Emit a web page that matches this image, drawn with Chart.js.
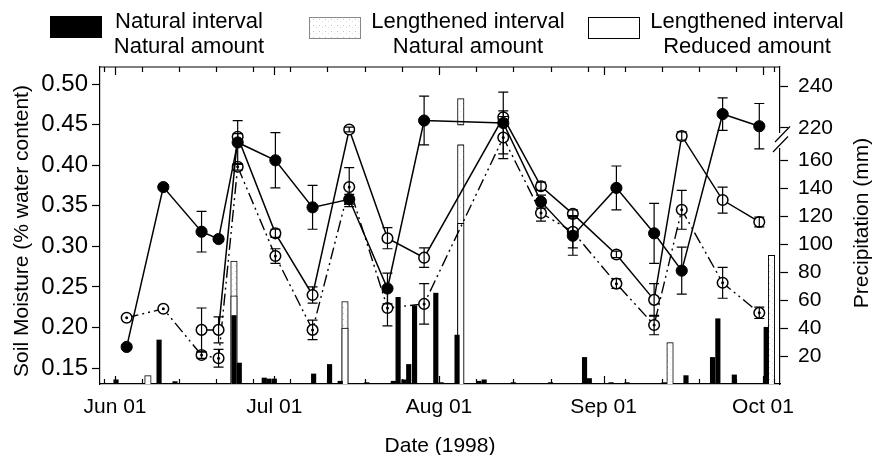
<!DOCTYPE html>
<html><head><meta charset="utf-8">
<script src="https://cdn.jsdelivr.net/npm/chart.js@4.4.1/dist/chart.umd.min.js"></script>
<style>html,body{margin:0;padding:0;background:#fff}</style>
</head><body>
<canvas id="c" width="872" height="455"></canvas>
<script>
const FONT = '"Liberation Sans", Arial, Helvetica, sans-serif';
const FS = 21;

// x values: days after 1 June 1998
const monthTickDays = [0, 30, 61, 92, 122];
const monthTickLabels = ['Jun 01', 'Jul 01', 'Aug 01', 'Sep 01', 'Oct 01'];
const weekTickDays = [-2, 5, 12, 19, 26, 33, 40, 47, 54, 61, 68, 75, 82, 89, 96, 103, 110, 117, 124];

// soil moisture sampling days
const sampleDays = [2.2, 9.1, 16.3, 19.5, 23.1, 30.2, 37.2, 44.1, 51.3, 58.2, 73.1, 80.2, 86.2, 94.4, 101.5, 106.7, 114.4, 121.3];
const moistNatural = [0.176, 0.373, 0.318, 0.309, 0.428, 0.406, 0.348, 0.358, 0.248, 0.455, 0.452, 0.355, 0.313, 0.372, 0.316, 0.270, 0.463, 0.448];
const errNatural = [0.003, 0.003, 0.025, 0.003, 0.027, 0.034, 0.027, 0.006, 0.019, 0.030, 0.038, 0.008, 0.024, 0.027, 0.037, 0.029, 0.020, 0.028];
const moistLengthened = [null, null, 0.197, 0.197, 0.435, 0.316, 0.240, 0.444, 0.310, 0.286, 0.459, 0.374, 0.340, 0.290, 0.234, 0.436, 0.357, 0.330];
const errLengthened = [0, 0, 0.027, 0.016, 0.004, 0.005, 0.010, 0.003, 0.013, 0.012, 0.008, 0.005, 0.005, 0.004, 0.020, 0.005, 0.016, 0.006];
const moistReduced = [0.212, 0.223, 0.166, 0.162, 0.398, 0.288, 0.197, 0.373, 0.224, 0.229, 0.434, 0.341, 0.318, 0.254, 0.203, 0.345, 0.255, 0.218];
const errReduced = [0, 0, 0.004, 0.011, 0.004, 0.009, 0.012, 0.024, 0.022, 0.025, 0.026, 0.010, 0.020, 0.006, 0.012, 0.024, 0.019, 0.007];

// precipitation (mm)
const rainNatDays = [0.2, 8.3, 11.3, 22.4, 23.4, 28.1, 29.0, 30.0, 37.4, 40.4, 42.4, 47.4, 52.4, 53.3, 54.4, 55.3, 56.4, 60.4, 61.4, 64.4, 68.5, 69.5, 75.0, 82.0, 88.4, 89.3, 93.4, 96.4, 103.4, 107.5, 112.5, 113.5, 116.6, 122.6];
const rainNat = [3, 31.5, 1.7, 49, 15, 4.3, 3.6, 3.6, 7.2, 14, 2, 1, 2, 62, 3, 14, 56, 65, 1, 35, 2, 3, 1, 1, 19, 3.9, 1, 1, 1, 6, 19, 46.7, 6.5, 40.6];
const rainLenNatDays = [6.2, 22.4, 43.3, 65.1, 104.5, 123.6];
const rainLenNat = [6, 88, 59, 234, 29.6, 92];
const rainLenRedDays = [22.4, 43.3, 65.1];
const rainLenRed = [63, 40, 115];

const precipTicks = [20, 40, 60, 80, 100, 120, 140, 160, 220, 240];
const moistTicks = [0.15, 0.20, 0.25, 0.30, 0.35, 0.40, 0.45, 0.50];

// broken precipitation axis: linear below the break, compressed segment above 220 mm
function precipToAxis(p) { return p <= 180 ? p : 183.3 + (p - 220) * 1.495; }

const ctx0 = document.getElementById('c').getContext('2d');
function makeStipple() {
  const c = document.createElement('canvas'); c.width = 6; c.height = 6;
  const g = c.getContext('2d');
  g.fillStyle = '#fff'; g.fillRect(0, 0, 6, 6);
  g.fillStyle = '#c4c4c4'; g.fillRect(1, 1, 1, 1);
  g.fillStyle = '#dddddd'; g.fillRect(4, 3, 1, 1);
  return ctx0.createPattern(c, 'repeat');
}
const stipple = makeStipple();

const pts = (xs, ys) => xs.map((x, i) => ({ x: x, y: ys[i] }));
const bars = (xs, ys) => xs.map((x, i) => ({ x: x, y: precipToAxis(ys[i]) }));

const errorBarPlugin = {
  id: 'errbars',
  afterDatasetsDraw(chart) {
    const c = chart.ctx, xs = chart.scales.x, ys = chart.scales.y;
    c.save();
    c.strokeStyle = '#000'; c.lineWidth = 1.2;
    chart.data.datasets.forEach(ds => {
      if (!ds.err) return;
      ds.data.forEach((p, i) => {
        const e = ds.err[i];
        if (p.y == null || !e) return;
        const px = xs.getPixelForValue(p.x);
        const y1 = ys.getPixelForValue(p.y + e), y2 = ys.getPixelForValue(p.y - e);
        c.beginPath();
        c.moveTo(px, y1); c.lineTo(px, y2);
        c.moveTo(px - 5, y1); c.lineTo(px + 5, y1);
        c.moveTo(px - 5, y2); c.lineTo(px + 5, y2);
        c.stroke();
      });
    });
    // centre dots of the dotted-circle series
    c.fillStyle = '#000';
    chart.data.datasets.forEach((ds, di) => {
      if (!ds.centerDot) return;
      chart.getDatasetMeta(di).data.forEach(el => {
        c.beginPath(); c.arc(el.x, el.y, 1.5, 0, Math.PI * 2); c.fill();
      });
    });
    c.restore();
  }
};

const decorPlugin = {
  id: 'decor',
  afterDraw(chart) {
    const c = chart.ctx, a = chart.chartArea, xs = chart.scales.x, y2 = chart.scales.y2;
    c.save();
    c.strokeStyle = '#000'; c.lineWidth = 1.2;
    // top frame
    c.beginPath(); c.moveTo(a.left, a.top); c.lineTo(a.right, a.top); c.stroke();
    // x ticks (inward, top and bottom)
    c.beginPath();
    weekTickDays.forEach(d => {
      const px = Math.round(xs.getPixelForValue(d)) + 0.5;
      c.moveTo(px, a.top); c.lineTo(px, a.top + 5);
      c.moveTo(px, a.bottom); c.lineTo(px, a.bottom - 5);
    });
    monthTickDays.forEach(d => {
      const px = Math.round(xs.getPixelForValue(d)) + 0.5;
      c.moveTo(px, a.top); c.lineTo(px, a.top + 8);
      c.moveTo(px, a.bottom); c.lineTo(px, a.bottom - 8);
    });
    c.stroke();
    // axis break on tall bars and on the right axis
    const yb1 = y2.getPixelForValue(185.5), yb2 = y2.getPixelForValue(171);
    chart.data.datasets.forEach((ds, di) => {
      if (ds.type !== 'bar') return;
      const meta = chart.getDatasetMeta(di);
      meta.data.forEach((el, i) => {
        if (ds.data[i].y > 186) {
          const w = el.width;
          c.fillStyle = '#fff';
          c.fillRect(el.x - w / 2 - 1, yb1, w + 2, yb2 - yb1);
          c.beginPath();
          c.moveTo(el.x - w / 2, yb1); c.lineTo(el.x + w / 2, yb1);
          c.moveTo(el.x - w / 2, yb2); c.lineTo(el.x + w / 2, yb2);
          c.stroke();
        }
      });
    });
    c.fillStyle = '#fff';
    c.fillRect(a.right - 3, 133, 8, 15);
    c.beginPath();
    c.moveTo(a.right - 5, 142); c.lineTo(a.right + 10, 126.5);
    c.moveTo(a.right - 7, 152); c.lineTo(a.right + 8, 136.5);
    c.stroke();
    // axis titles
    c.fillStyle = '#000';
    c.font = FS + 'px ' + FONT;
    c.textAlign = 'center'; c.textBaseline = 'middle';
    c.fillText('Date (1998)', (a.left + a.right) / 2, 446);
    c.save(); c.translate(22, 231); c.rotate(-Math.PI / 2);
    c.fillText('Soil Moisture (% water content)', 0, 0); c.restore();
    c.save(); c.translate(862, 223); c.rotate(-Math.PI / 2);
    c.fillText('Precipitation (mm)', 0, 0); c.restore();
    // legend
    c.fillStyle = '#000'; c.fillRect(50, 16, 52, 22);
    c.fillStyle = stipple; c.fillRect(309, 17, 51, 21);
    c.strokeStyle = '#888'; c.lineWidth = 1; c.strokeRect(309.5, 17.5, 51, 21);
    c.fillStyle = '#fff'; c.fillRect(588, 17, 51, 21);
    c.strokeStyle = '#000'; c.strokeRect(588.5, 17.5, 51, 21);
    c.fillStyle = '#000';
    c.font = '22px ' + FONT;
    const L = [[189, 'Natural interval', 'Natural amount'], [468, 'Lengthened interval', 'Natural amount'], [747, 'Lengthened interval', 'Reduced amount']];
    L.forEach(([cx, t1, t2]) => { c.fillText(t1, cx, 22); c.fillText(t2, cx, 47); });
    c.restore();
  }
};

const lineBase = { type: 'line', yAxisID: 'y', borderColor: '#000', borderWidth: 1.5, fill: false, tension: 0, spanGaps: false };

new Chart(ctx0, {
  type: 'line',
  data: {
    datasets: [
      Object.assign({}, lineBase, { label: 'Natural interval, natural amount', data: pts(sampleDays, moistNatural), err: errNatural,
        pointStyle: 'circle', pointRadius: 5.6, pointBackgroundColor: '#000', pointBorderColor: '#000', pointBorderWidth: 1, order: 1 }),
      Object.assign({}, lineBase, { label: 'Lengthened interval, natural amount', data: pts(sampleDays, moistLengthened), err: errLengthened,
        pointStyle: 'circle', pointRadius: 5.3, pointBackgroundColor: '#fff', pointBorderColor: '#000', pointBorderWidth: 1.5, order: 2 }),
      Object.assign({}, lineBase, { label: 'Lengthened interval, reduced amount', data: pts(sampleDays, moistReduced), err: errReduced, centerDot: true,
        borderWidth: 1.4, borderDash: [12, 4, 2, 4, 2, 4], pointStyle: 'circle', pointRadius: 5.3, pointBackgroundColor: '#fff',
        pointBorderColor: '#000', pointBorderWidth: 1.5, order: 3 }),
      { type: 'bar', yAxisID: 'y2', label: 'P natural', data: bars(rainNatDays, rainNat), backgroundColor: '#000', borderWidth: 0,
        barThickness: 4.5, grouped: false, order: 10 },
      { type: 'bar', yAxisID: 'y2', label: 'P reduced', data: bars(rainLenRedDays, rainLenRed), backgroundColor: '#fff', borderColor: '#000', borderWidth: 1,
        barThickness: 6.5, grouped: false, order: 11 },
      { type: 'bar', yAxisID: 'y2', label: 'P lengthened', data: bars(rainLenNatDays, rainLenNat), backgroundColor: stipple, borderColor: '#000', borderWidth: 1,
        barThickness: 6.5, grouped: false, order: 12 }
    ]
  },
  options: {
    responsive: false, devicePixelRatio: 1, animation: false,
    layout: { padding: { top: 67, left: 0, right: 0, bottom: 0 } },
    plugins: { legend: { display: false }, tooltip: { enabled: false } },
    scales: {
      x: {
        type: 'linear', position: 'bottom', min: -2.82, max: 125.2, offset: false,
        afterBuildTicks: s => { s.ticks = monthTickDays.map(v => ({ value: v })); },
        afterFit: s => { s.height = 71; },
        grid: { display: true, drawOnChartArea: false, drawTicks: false, offset: false },
        border: { display: true, color: '#000', width: 1.2 },
        ticks: { autoSkip: false, maxRotation: 0, padding: 11, color: '#000', font: { family: FONT, size: FS },
          callback: (v, i) => monthTickLabels[i] }
      },
      y: {
        type: 'linear', position: 'left', min: 0.1303, max: 0.521,
        afterBuildTicks: s => { s.ticks = moistTicks.map(v => ({ value: v })); },
        afterFit: s => { s.width = 100; },
        grid: { drawOnChartArea: false, drawTicks: true, tickLength: 8, color: '#000', tickWidth: 1.2 },
        border: { display: true, color: '#000', width: 1.2 },
        ticks: { padding: 4, color: '#000', font: { family: FONT, size: 24 }, callback: v => v.toFixed(2) }
      },
      y2: {
        type: 'linear', position: 'right', min: 0, max: 226.8,
        afterBuildTicks: s => { s.ticks = precipTicks.map(p => ({ value: precipToAxis(p) })); },
        afterFit: s => { s.width = 92; },
        grid: { drawOnChartArea: false, drawTicks: true, tickLength: 8, color: '#000', tickWidth: 1.2 },
        border: { display: true, color: '#000', width: 1.2 },
        ticks: { padding: 10, color: '#000', font: { family: FONT, size: FS }, callback: (v, i) => String(precipTicks[i]) }
      }
    }
  },
  plugins: [errorBarPlugin, decorPlugin]
});
</script>
</body></html>
